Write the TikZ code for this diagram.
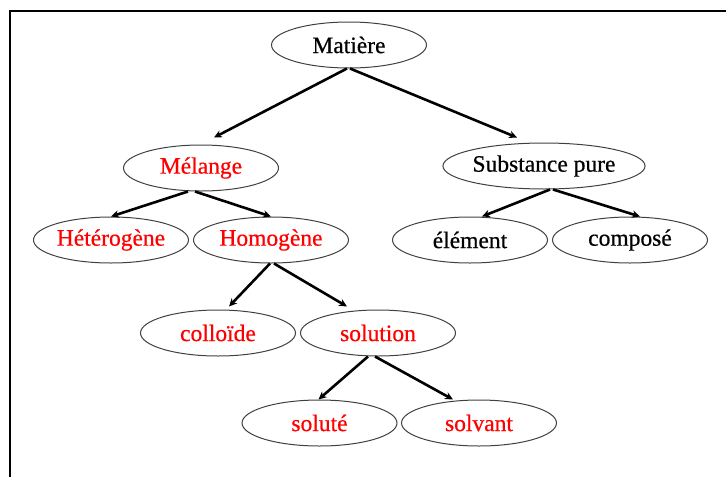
\documentclass[tikz,border=0pt]{standalone}
\usepackage{fontspec}
\setmainfont{Liberation Serif}[FakeBold=0.6]
\usetikzlibrary{shapes.geometric,arrows.meta}
\definecolor{rd}{RGB}{255,0,0}
\begin{document}
\begin{tikzpicture}[x=1pt,y=-1pt,
  oval/.style={ellipse,draw=black!75,line width=1pt,minimum width=155pt,minimum height=46pt,inner sep=0pt,font=\fontsize{23.5}{26}\selectfont},
  rtxt/.style={text=rd},
  arr/.style={line width=2.6pt,-{Stealth[length=8pt,width=7.5pt]}}]
\useasboundingbox (0,0) rectangle (726,477);
\draw[line width=2.2pt] (10,477) -- (10,11) -- (726,11);
\node[oval] (mat) at (349,45) {Matière};
\node[oval,rtxt] (mel) at (201,168) {Mélange};
\node[oval] (sub) at (544,166) {Substance pure};
\node[oval,rtxt] (het) at (111,240) {Hétérogène};
\node[oval,rtxt] (hom) at (271,240) {Homogène};
\node[oval] (ele) at (470,240) {élément};
\node[oval] (com) at (630,240) {composé};
\node[oval,rtxt] (col) at (218,333) {colloïde};
\node[oval,rtxt] (sol) at (378,333) {solution};
\node[oval,rtxt] (sle) at (319.5,423) {soluté};
\node[oval,rtxt] (slv) at (479,423) {solvant};
\draw[arr] ([xshift=-2pt]mat.south) -- ([xshift=13pt,yshift=7pt]mel.north);
\draw[arr] ([xshift=1pt]mat.south) -- ([xshift=-27pt,yshift=5pt]sub.north);
\draw[arr] ([xshift=-13pt]mel.south) -- (het.north);
\draw[arr] ([xshift=-6pt]mel.south) -- (hom.north);
\draw[arr] ([xshift=6pt]sub.south) -- ([xshift=12pt]ele.north);
\draw[arr] ([xshift=9pt]sub.south) -- ([xshift=10pt]com.north);
\draw[arr] ([xshift=-1pt]hom.south) -- ([xshift=11pt,yshift=3pt]col.north);
\draw[arr] ([xshift=3pt]hom.south) -- ([xshift=-31pt,yshift=3pt]sol.north);
\draw[arr] ([xshift=-10pt]sol.south) -- ([xshift=-1pt]sle.north);
\draw[arr] ([xshift=-3pt]sol.south) -- ([xshift=-26pt]slv.north);
\end{tikzpicture}
\end{document}
